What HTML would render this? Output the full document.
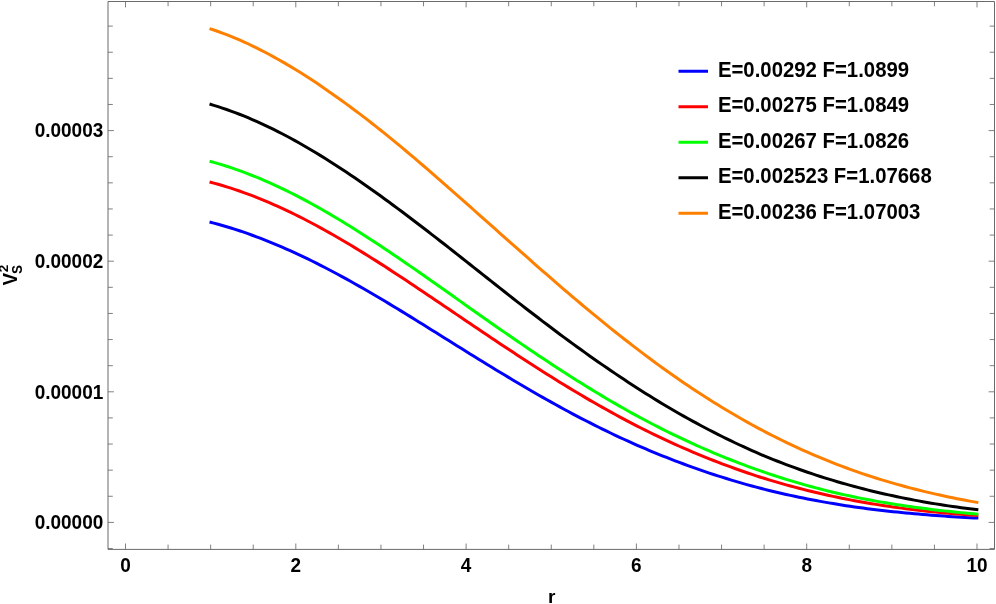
<!DOCTYPE html>
<html><head><meta charset="utf-8"><title>plot</title>
<style>
html,body{margin:0;padding:0;background:#fff;}
body{width:996px;height:604px;overflow:hidden;}
svg{display:block;will-change:transform;}
text{font-family:"Liberation Sans",sans-serif;font-weight:bold;fill:#000;}
</style></head><body>
<svg width="996" height="604" viewBox="0 0 996 604">
<rect x="0" y="0" width="996" height="604" fill="#ffffff"/>
<g stroke="#6a6a6a" stroke-width="1" fill="none">
<path d="M108.0,549.4 L108.0,1.5 L994.5,1.5 L994.5,549.4 Z"/>
<path stroke-width="0.85" d="M125.50,549.4 v-5.9 M125.50,1.5 v5.9 M168.07,549.4 v-4.8 M168.07,1.5 v4.8 M210.65,549.4 v-4.8 M210.65,1.5 v4.8 M253.23,549.4 v-4.8 M253.23,1.5 v4.8 M295.80,549.4 v-5.9 M295.80,1.5 v5.9 M338.38,549.4 v-4.8 M338.38,1.5 v4.8 M380.95,549.4 v-4.8 M380.95,1.5 v4.8 M423.53,549.4 v-4.8 M423.53,1.5 v4.8 M466.10,549.4 v-5.9 M466.10,1.5 v5.9 M508.68,549.4 v-4.8 M508.68,1.5 v4.8 M551.25,549.4 v-4.8 M551.25,1.5 v4.8 M593.83,549.4 v-4.8 M593.83,1.5 v4.8 M636.40,549.4 v-5.9 M636.40,1.5 v5.9 M678.98,549.4 v-4.8 M678.98,1.5 v4.8 M721.55,549.4 v-4.8 M721.55,1.5 v4.8 M764.12,549.4 v-4.8 M764.12,1.5 v4.8 M806.70,549.4 v-5.9 M806.70,1.5 v5.9 M849.28,549.4 v-4.8 M849.28,1.5 v4.8 M891.85,549.4 v-4.8 M891.85,1.5 v4.8 M934.43,549.4 v-4.8 M934.43,1.5 v4.8 M977.00,549.4 v-5.9 M977.00,1.5 v5.9 M108.0,548.52 h4.8 M994.5,548.52 h-4.8 M108.0,522.40 h5.9 M994.5,522.40 h-5.9 M108.0,496.28 h4.8 M994.5,496.28 h-4.8 M108.0,470.16 h4.8 M994.5,470.16 h-4.8 M108.0,444.04 h4.8 M994.5,444.04 h-4.8 M108.0,417.92 h4.8 M994.5,417.92 h-4.8 M108.0,391.80 h5.9 M994.5,391.80 h-5.9 M108.0,365.68 h4.8 M994.5,365.68 h-4.8 M108.0,339.56 h4.8 M994.5,339.56 h-4.8 M108.0,313.44 h4.8 M994.5,313.44 h-4.8 M108.0,287.32 h4.8 M994.5,287.32 h-4.8 M108.0,261.20 h5.9 M994.5,261.20 h-5.9 M108.0,235.08 h4.8 M994.5,235.08 h-4.8 M108.0,208.96 h4.8 M994.5,208.96 h-4.8 M108.0,182.84 h4.8 M994.5,182.84 h-4.8 M108.0,156.72 h4.8 M994.5,156.72 h-4.8 M108.0,130.60 h5.9 M994.5,130.60 h-5.9 M108.0,104.48 h4.8 M994.5,104.48 h-4.8 M108.0,78.36 h4.8 M994.5,78.36 h-4.8 M108.0,52.24 h4.8 M994.5,52.24 h-4.8 M108.0,26.12 h4.8 M994.5,26.12 h-4.8"/>
</g>
<g fill="none" stroke-width="3" stroke-linecap="butt" stroke-linejoin="round">
<path stroke="#0000ff" d="M209.55,222.00 L213.82,223.10 L218.09,224.25 L222.36,225.46 L226.63,226.71 L230.91,228.01 L235.18,229.36 L239.45,230.75 L243.72,232.20 L247.99,233.68 L252.26,235.22 L256.53,236.79 L260.80,238.42 L265.07,240.08 L269.35,241.78 L273.62,243.53 L277.89,245.31 L282.16,247.14 L286.43,249.01 L290.70,250.91 L294.97,252.86 L299.24,254.84 L303.51,256.86 L307.79,258.92 L312.06,261.01 L316.33,263.14 L320.60,265.30 L324.87,267.50 L329.14,269.72 L333.41,271.98 L337.68,274.27 L341.95,276.59 L346.23,278.93 L350.50,281.30 L354.77,283.70 L359.04,286.12 L363.31,288.56 L367.58,291.02 L371.85,293.50 L376.12,296.00 L380.39,298.53 L384.67,301.06 L388.94,303.62 L393.21,306.20 L397.48,308.78 L401.75,311.39 L406.02,314.00 L410.29,316.63 L414.56,319.27 L418.83,321.92 L423.11,324.58 L427.38,327.24 L431.65,329.90 L435.92,332.57 L440.19,335.24 L444.46,337.91 L448.73,340.58 L453.00,343.25 L457.27,345.92 L461.55,348.58 L465.82,351.24 L470.09,353.90 L474.36,356.55 L478.63,359.19 L482.90,361.82 L487.17,364.45 L491.44,367.06 L495.71,369.67 L499.99,372.26 L504.26,374.84 L508.53,377.41 L512.80,379.96 L517.07,382.50 L521.34,385.02 L525.61,387.53 L529.88,390.01 L534.15,392.49 L538.43,394.94 L542.70,397.37 L546.97,399.78 L551.24,402.18 L555.51,404.55 L559.78,406.90 L564.05,409.23 L568.32,411.53 L572.59,413.81 L576.87,416.07 L581.14,418.31 L585.41,420.52 L589.68,422.70 L593.95,424.86 L598.22,427.00 L602.49,429.10 L606.76,431.19 L611.03,433.24 L615.31,435.27 L619.58,437.27 L623.85,439.25 L628.12,441.19 L632.39,443.11 L636.66,445.01 L640.93,446.87 L645.20,448.70 L649.47,450.51 L653.75,452.29 L658.02,454.05 L662.29,455.78 L666.56,457.48 L670.83,459.16 L675.10,460.81 L679.37,462.44 L683.64,464.03 L687.91,465.60 L692.19,467.15 L696.46,468.66 L700.73,470.15 L705.00,471.61 L709.27,473.05 L713.54,474.45 L717.81,475.84 L722.08,477.19 L726.35,478.53 L730.63,479.84 L734.90,481.12 L739.17,482.38 L743.44,483.61 L747.71,484.82 L751.98,486.00 L756.25,487.15 L760.52,488.27 L764.79,489.37 L769.07,490.44 L773.34,491.47 L777.61,492.49 L781.88,493.48 L786.15,494.45 L790.42,495.39 L794.69,496.31 L798.96,497.21 L803.23,498.09 L807.51,498.94 L811.78,499.77 L816.05,500.58 L820.32,501.37 L824.59,502.13 L828.86,502.88 L833.13,503.60 L837.40,504.31 L841.67,504.99 L845.95,505.65 L850.22,506.29 L854.49,506.92 L858.76,507.52 L863.03,508.10 L867.30,508.66 L871.57,509.21 L875.84,509.73 L880.11,510.24 L884.39,510.73 L888.66,511.21 L892.93,511.67 L897.20,512.11 L901.47,512.54 L905.74,512.95 L910.01,513.35 L914.28,513.74 L918.55,514.11 L922.83,514.47 L927.10,514.82 L931.37,515.16 L935.64,515.48 L939.91,515.80 L944.18,516.10 L948.45,516.39 L952.72,516.67 L956.99,516.93 L961.27,517.19 L965.54,517.43 L969.81,517.67 L974.08,517.89 L978.35,518.11"/>
<path stroke="#ff0000" d="M209.55,181.97 L213.82,183.10 L218.09,184.29 L222.36,185.53 L226.63,186.82 L230.91,188.17 L235.18,189.57 L239.45,191.03 L243.72,192.54 L247.99,194.10 L252.26,195.71 L256.53,197.38 L260.80,199.09 L265.07,200.85 L269.35,202.66 L273.62,204.52 L277.89,206.42 L282.16,208.37 L286.43,210.37 L290.70,212.41 L294.97,214.49 L299.24,216.62 L303.51,218.78 L307.79,220.99 L312.06,223.23 L316.33,225.52 L320.60,227.84 L324.87,230.20 L329.14,232.59 L333.41,235.01 L337.68,237.47 L341.95,239.96 L346.23,242.49 L350.50,245.04 L354.77,247.61 L359.04,250.22 L363.31,252.85 L367.58,255.51 L371.85,258.19 L376.12,260.89 L380.39,263.62 L384.67,266.36 L388.94,269.13 L393.21,271.91 L397.48,274.71 L401.75,277.52 L406.02,280.35 L410.29,283.19 L414.56,286.04 L418.83,288.90 L423.11,291.77 L427.38,294.65 L431.65,297.53 L435.92,300.41 L440.19,303.30 L444.46,306.20 L448.73,309.09 L453.00,311.99 L457.27,314.88 L461.55,317.78 L465.82,320.67 L470.09,323.56 L474.36,326.45 L478.63,329.33 L482.90,332.21 L487.17,335.08 L491.44,337.94 L495.71,340.79 L499.99,343.64 L504.26,346.48 L508.53,349.30 L512.80,352.12 L517.07,354.92 L521.34,357.71 L525.61,360.49 L529.88,363.25 L534.15,366.00 L538.43,368.73 L542.70,371.45 L546.97,374.15 L551.24,376.84 L555.51,379.50 L559.78,382.15 L564.05,384.77 L568.32,387.38 L572.59,389.97 L576.87,392.53 L581.14,395.07 L585.41,397.59 L589.68,400.08 L593.95,402.55 L598.22,405.00 L602.49,407.42 L606.76,409.81 L611.03,412.18 L615.31,414.52 L619.58,416.84 L623.85,419.13 L628.12,421.39 L632.39,423.62 L636.66,425.82 L640.93,428.00 L645.20,430.14 L649.47,432.26 L653.75,434.34 L658.02,436.40 L662.29,438.43 L666.56,440.43 L670.83,442.40 L675.10,444.34 L679.37,446.25 L683.64,448.13 L687.91,449.98 L692.19,451.81 L696.46,453.60 L700.73,455.37 L705.00,457.10 L709.27,458.81 L713.54,460.49 L717.81,462.15 L722.08,463.78 L726.35,465.39 L730.63,466.96 L734.90,468.51 L739.17,470.03 L743.44,471.53 L747.71,472.99 L751.98,474.43 L756.25,475.83 L760.52,477.21 L764.79,478.55 L769.07,479.86 L773.34,481.15 L777.61,482.40 L781.88,483.63 L786.15,484.83 L790.42,486.01 L794.69,487.16 L798.96,488.29 L803.23,489.39 L807.51,490.46 L811.78,491.51 L816.05,492.54 L820.32,493.53 L824.59,494.51 L828.86,495.46 L833.13,496.39 L837.40,497.29 L841.67,498.17 L845.95,499.03 L850.22,499.86 L854.49,500.67 L858.76,501.46 L863.03,502.22 L867.30,502.96 L871.57,503.68 L875.84,504.37 L880.11,505.05 L884.39,505.70 L888.66,506.34 L892.93,506.95 L897.20,507.54 L901.47,508.12 L905.74,508.68 L910.01,509.22 L914.28,509.74 L918.55,510.25 L922.83,510.74 L927.10,511.21 L931.37,511.67 L935.64,512.11 L939.91,512.53 L944.18,512.93 L948.45,513.31 L952.72,513.68 L956.99,514.02 L961.27,514.35 L965.54,514.67 L969.81,514.97 L974.08,515.26 L978.35,515.53"/>
<path stroke="#00ff00" d="M209.55,161.24 L213.82,162.41 L218.09,163.64 L222.36,164.93 L226.63,166.27 L230.91,167.67 L235.18,169.13 L239.45,170.64 L243.72,172.20 L247.99,173.82 L252.26,175.49 L256.53,177.21 L260.80,178.99 L265.07,180.81 L269.35,182.69 L273.62,184.61 L277.89,186.58 L282.16,188.60 L286.43,190.67 L290.70,192.78 L294.97,194.93 L299.24,197.13 L303.51,199.38 L307.79,201.66 L312.06,203.99 L316.33,206.35 L320.60,208.75 L324.87,211.19 L329.14,213.67 L333.41,216.18 L337.68,218.73 L341.95,221.31 L346.23,223.92 L350.50,226.56 L354.77,229.24 L359.04,231.94 L363.31,234.66 L367.58,237.42 L371.85,240.20 L376.12,243.00 L380.39,245.82 L384.67,248.67 L388.94,251.54 L393.21,254.42 L397.48,257.33 L401.75,260.25 L406.02,263.18 L410.29,266.14 L414.56,269.10 L418.83,272.07 L423.11,275.05 L427.38,278.04 L431.65,281.04 L435.92,284.05 L440.19,287.06 L444.46,290.07 L448.73,293.09 L453.00,296.10 L457.27,299.12 L461.55,302.14 L465.82,305.16 L470.09,308.18 L474.36,311.19 L478.63,314.20 L482.90,317.21 L487.17,320.20 L491.44,323.20 L495.71,326.18 L499.99,329.16 L504.26,332.12 L508.53,335.08 L512.80,338.03 L517.07,340.96 L521.34,343.88 L525.61,346.79 L529.88,349.68 L534.15,352.56 L538.43,355.43 L542.70,358.28 L546.97,361.11 L551.24,363.92 L555.51,366.71 L559.78,369.49 L564.05,372.25 L568.32,374.99 L572.59,377.71 L576.87,380.41 L581.14,383.09 L585.41,385.74 L589.68,388.38 L593.95,390.99 L598.22,393.57 L602.49,396.13 L606.76,398.67 L611.03,401.18 L615.31,403.67 L619.58,406.12 L623.85,408.55 L628.12,410.96 L632.39,413.33 L636.66,415.67 L640.93,417.99 L645.20,420.28 L649.47,422.53 L653.75,424.76 L658.02,426.95 L662.29,429.11 L666.56,431.25 L670.83,433.35 L675.10,435.43 L679.37,437.47 L683.64,439.48 L687.91,441.47 L692.19,443.42 L696.46,445.35 L700.73,447.25 L705.00,449.12 L709.27,450.96 L713.54,452.77 L717.81,454.55 L722.08,456.31 L726.35,458.05 L730.63,459.75 L734.90,461.43 L739.17,463.08 L743.44,464.71 L747.71,466.30 L751.98,467.86 L756.25,469.40 L760.52,470.90 L764.79,472.38 L769.07,473.82 L773.34,475.23 L777.61,476.62 L781.88,477.98 L786.15,479.31 L790.42,480.62 L794.69,481.90 L798.96,483.15 L803.23,484.38 L807.51,485.58 L811.78,486.75 L816.05,487.90 L820.32,489.02 L824.59,490.11 L828.86,491.18 L833.13,492.21 L837.40,493.22 L841.67,494.20 L845.95,495.16 L850.22,496.09 L854.49,496.99 L858.76,497.86 L863.03,498.71 L867.30,499.54 L871.57,500.34 L875.84,501.11 L880.11,501.87 L884.39,502.60 L888.66,503.32 L892.93,504.01 L897.20,504.68 L901.47,505.33 L905.74,505.96 L910.01,506.58 L914.28,507.17 L918.55,507.75 L922.83,508.31 L927.10,508.86 L931.37,509.39 L935.64,509.90 L939.91,510.40 L944.18,510.87 L948.45,511.34 L952.72,511.78 L956.99,512.21 L961.27,512.62 L965.54,513.02 L969.81,513.41 L974.08,513.78 L978.35,514.14"/>
<path stroke="#000000" d="M209.55,104.04 L213.82,105.32 L218.09,106.66 L222.36,108.06 L226.63,109.53 L230.91,111.05 L235.18,112.63 L239.45,114.27 L243.72,115.97 L247.99,117.73 L252.26,119.54 L256.53,121.41 L260.80,123.33 L265.07,125.31 L269.35,127.34 L273.62,129.43 L277.89,131.57 L282.16,133.76 L286.43,136.00 L290.70,138.29 L294.97,140.63 L299.24,143.02 L303.51,145.46 L307.79,147.94 L312.06,150.46 L316.33,153.03 L320.60,155.64 L324.87,158.29 L329.14,160.98 L333.41,163.71 L337.68,166.47 L341.95,169.27 L346.23,172.10 L350.50,174.96 L354.77,177.85 L359.04,180.78 L363.31,183.73 L367.58,186.71 L371.85,189.73 L376.12,192.77 L380.39,195.84 L384.67,198.93 L388.94,202.05 L393.21,205.20 L397.48,208.37 L401.75,211.56 L406.02,214.77 L410.29,217.99 L414.56,221.23 L418.83,224.49 L423.11,227.75 L427.38,231.04 L431.65,234.33 L435.92,237.64 L440.19,240.96 L444.46,244.29 L448.73,247.63 L453.00,250.99 L457.27,254.35 L461.55,257.72 L465.82,261.11 L470.09,264.49 L474.36,267.88 L478.63,271.27 L482.90,274.66 L487.17,278.04 L491.44,281.42 L495.71,284.80 L499.99,288.16 L504.26,291.53 L508.53,294.88 L512.80,298.23 L517.07,301.56 L521.34,304.89 L525.61,308.20 L529.88,311.50 L534.15,314.79 L538.43,318.06 L542.70,321.32 L546.97,324.56 L551.24,327.79 L555.51,331.00 L559.78,334.18 L564.05,337.35 L568.32,340.50 L572.59,343.63 L576.87,346.73 L581.14,349.82 L585.41,352.88 L589.68,355.92 L593.95,358.93 L598.22,361.92 L602.49,364.88 L606.76,367.82 L611.03,370.73 L615.31,373.62 L619.58,376.49 L623.85,379.33 L628.12,382.15 L632.39,384.95 L636.66,387.71 L640.93,390.45 L645.20,393.16 L649.47,395.84 L653.75,398.49 L658.02,401.10 L662.29,403.68 L666.56,406.23 L670.83,408.75 L675.10,411.23 L679.37,413.68 L683.64,416.10 L687.91,418.49 L692.19,420.85 L696.46,423.17 L700.73,425.46 L705.00,427.73 L709.27,429.96 L713.54,432.16 L717.81,434.33 L722.08,436.47 L726.35,438.59 L730.63,440.67 L734.90,442.73 L739.17,444.75 L743.44,446.73 L747.71,448.68 L751.98,450.60 L756.25,452.47 L760.52,454.31 L764.79,456.11 L769.07,457.86 L773.34,459.58 L777.61,461.26 L781.88,462.92 L786.15,464.54 L790.42,466.14 L794.69,467.70 L798.96,469.23 L803.23,470.73 L807.51,472.21 L811.78,473.65 L816.05,475.06 L820.32,476.45 L824.59,477.81 L828.86,479.14 L833.13,480.44 L837.40,481.71 L841.67,482.96 L845.95,484.18 L850.22,485.37 L854.49,486.53 L858.76,487.67 L863.03,488.78 L867.30,489.86 L871.57,490.92 L875.84,491.95 L880.11,492.95 L884.39,493.93 L888.66,494.88 L892.93,495.81 L897.20,496.72 L901.47,497.60 L905.74,498.46 L910.01,499.29 L914.28,500.11 L918.55,500.90 L922.83,501.68 L927.10,502.43 L931.37,503.16 L935.64,503.87 L939.91,504.56 L944.18,505.22 L948.45,505.87 L952.72,506.49 L956.99,507.10 L961.27,507.68 L965.54,508.25 L969.81,508.80 L974.08,509.33 L978.35,509.84"/>
<path stroke="#ff8000" d="M209.55,28.64 L213.82,30.04 L218.09,31.51 L222.36,33.05 L226.63,34.65 L230.91,36.33 L235.18,38.08 L239.45,39.89 L243.72,41.77 L247.99,43.74 L252.26,45.78 L256.53,47.88 L260.80,50.05 L265.07,52.26 L269.35,54.52 L273.62,56.83 L277.89,59.19 L282.16,61.61 L286.43,64.08 L290.70,66.61 L294.97,69.20 L299.24,71.83 L303.51,74.52 L307.79,77.25 L312.06,80.04 L316.33,82.87 L320.60,85.75 L324.87,88.68 L329.14,91.65 L333.41,94.65 L337.68,97.69 L341.95,100.76 L346.23,103.86 L350.50,107.01 L354.77,110.18 L359.04,113.39 L363.31,116.64 L367.58,119.93 L371.85,123.25 L376.12,126.61 L380.39,130.00 L384.67,133.43 L388.94,136.88 L393.21,140.36 L397.48,143.87 L401.75,147.41 L406.02,150.98 L410.29,154.57 L414.56,158.19 L418.83,161.83 L423.11,165.49 L427.38,169.17 L431.65,172.86 L435.92,176.58 L440.19,180.31 L444.46,184.05 L448.73,187.80 L453.00,191.57 L457.27,195.34 L461.55,199.13 L465.82,202.92 L470.09,206.71 L474.36,210.50 L478.63,214.30 L482.90,218.10 L487.17,221.89 L491.44,225.68 L495.71,229.48 L499.99,233.27 L504.26,237.06 L508.53,240.84 L512.80,244.63 L517.07,248.41 L521.34,252.19 L525.61,255.97 L529.88,259.74 L534.15,263.51 L538.43,267.26 L542.70,271.01 L546.97,274.74 L551.24,278.46 L555.51,282.16 L559.78,285.85 L564.05,289.52 L568.32,293.18 L572.59,296.81 L576.87,300.43 L581.14,304.02 L585.41,307.60 L589.68,311.15 L593.95,314.68 L598.22,318.18 L602.49,321.66 L606.76,325.12 L611.03,328.55 L615.31,331.96 L619.58,335.34 L623.85,338.71 L628.12,342.04 L632.39,345.35 L636.66,348.64 L640.93,351.89 L645.20,355.12 L649.47,358.31 L653.75,361.47 L658.02,364.60 L662.29,367.69 L666.56,370.75 L670.83,373.78 L675.10,376.78 L679.37,379.74 L683.64,382.67 L687.91,385.57 L692.19,388.43 L696.46,391.26 L700.73,394.05 L705.00,396.80 L709.27,399.52 L713.54,402.20 L717.81,404.85 L722.08,407.46 L726.35,410.04 L730.63,412.58 L734.90,415.08 L739.17,417.55 L743.44,419.98 L747.71,422.38 L751.98,424.73 L756.25,427.06 L760.52,429.34 L764.79,431.59 L769.07,433.81 L773.34,435.99 L777.61,438.13 L781.88,440.24 L786.15,442.31 L790.42,444.35 L794.69,446.36 L798.96,448.33 L803.23,450.27 L807.51,452.17 L811.78,454.04 L816.05,455.87 L820.32,457.67 L824.59,459.44 L828.86,461.17 L833.13,462.87 L837.40,464.53 L841.67,466.16 L845.95,467.76 L850.22,469.33 L854.49,470.86 L858.76,472.35 L863.03,473.81 L867.30,475.24 L871.57,476.64 L875.84,478.00 L880.11,479.34 L884.39,480.64 L888.66,481.91 L892.93,483.16 L897.20,484.37 L901.47,485.56 L905.74,486.72 L910.01,487.85 L914.28,488.96 L918.55,490.04 L922.83,491.10 L927.10,492.13 L931.37,493.14 L935.64,494.12 L939.91,495.08 L944.18,496.01 L948.45,496.92 L952.72,497.81 L956.99,498.67 L961.27,499.50 L965.54,500.32 L969.81,501.11 L974.08,501.89 L978.35,502.64"/>
</g>
<g font-size="19px">
<text transform="translate(103.3,529.10) scale(1,1.075)" text-anchor="end">0.00000</text>
<text transform="translate(103.3,398.50) scale(1,1.075)" text-anchor="end">0.00001</text>
<text transform="translate(103.3,267.90) scale(1,1.075)" text-anchor="end">0.00002</text>
<text transform="translate(103.3,137.30) scale(1,1.075)" text-anchor="end">0.00003</text>
<text transform="translate(125.50,571.9) scale(1,1.075)" text-anchor="middle">0</text>
<text transform="translate(295.80,571.9) scale(1,1.075)" text-anchor="middle">2</text>
<text transform="translate(466.10,571.9) scale(1,1.075)" text-anchor="middle">4</text>
<text transform="translate(636.40,571.9) scale(1,1.075)" text-anchor="middle">6</text>
<text transform="translate(806.70,571.9) scale(1,1.075)" text-anchor="middle">8</text>
<text transform="translate(977.00,571.9) scale(1,1.075)" text-anchor="middle">10</text>
</g>
<text x="551.65" y="603" font-size="19.1px" text-anchor="middle">r</text>
<g transform="translate(17.1,285.6) rotate(-90)"><text transform="scale(0.955,1)" x="0" y="0" font-size="19.7px">V</text><text transform="translate(11.5,5.1) scale(0.96,1)" font-size="14.1px">S</text><text x="13.4" y="-9.2" font-size="13.4px">2</text></g>
<g font-size="20.36px">
<line x1="678.5" x2="708" y1="71.25" y2="71.25" stroke="#0000ff" stroke-width="3"/>
<text transform="translate(717.9,76.65) scale(1,1.065)">E=0.00292 F=1.0899</text>
<line x1="678.5" x2="708" y1="106.75" y2="106.75" stroke="#ff0000" stroke-width="3"/>
<text transform="translate(717.9,112.15) scale(1,1.065)">E=0.00275 F=1.0849</text>
<line x1="678.5" x2="708" y1="142.25" y2="142.25" stroke="#00ff00" stroke-width="3"/>
<text transform="translate(717.9,147.65) scale(1,1.065)">E=0.00267 F=1.0826</text>
<line x1="678.5" x2="708" y1="177.75" y2="177.75" stroke="#000000" stroke-width="3"/>
<text transform="translate(717.9,183.15) scale(1,1.065)">E=0.002523 F=1.07668</text>
<line x1="678.5" x2="708" y1="213.25" y2="213.25" stroke="#ff8000" stroke-width="3"/>
<text transform="translate(717.9,218.65) scale(1,1.065)">E=0.00236 F=1.07003</text>
</g>
</svg></body></html>
